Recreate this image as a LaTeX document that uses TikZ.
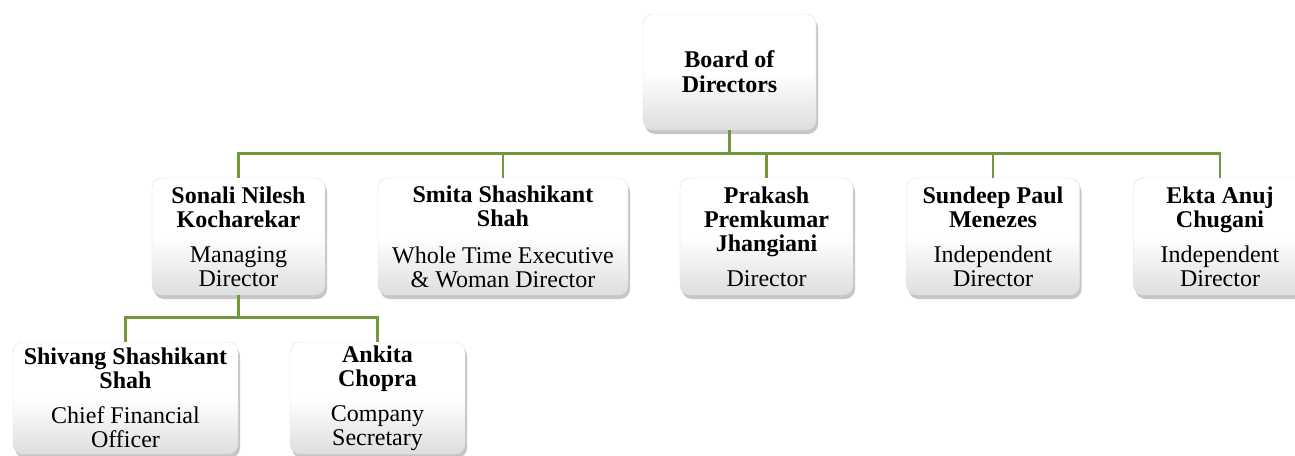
\documentclass[tikz,border=0pt]{standalone}
\usepackage{fontspec}
\setmainfont{Liberation Serif}
\usetikzlibrary{shadows}
\definecolor{linkgreen}{RGB}{112,153,58}

\begin{document}
\begin{tikzpicture}[x=1pt,y=-1pt]
      \useasboundingbox (0,0) rectangle (1295,455);
      \begin{scope}[every node/.style={rectangle,rounded corners=10pt,draw=black!12,
          top color=white,bottom color=black!13,middle color=white,
          drop shadow={shadow xshift=2pt,shadow yshift=-4pt,opacity=0.45},
          align=center,inner sep=0pt,minimum height=117pt,minimum width=173pt,
          font=\fontsize{24}{24}\selectfont}]
        \node (BoD) [minimum height=116pt] at (729.5,72) {\textbf{Board of}\\[1pt]\textbf{Directors}};
        \node (SNK) at (238.5,236.5) {\textbf{Sonali Nilesh}\\\textbf{Kocharekar}\\[11pt]Managing\\Director};
        \node (SSS) [minimum width=250pt] at (503,236.5) {\textbf{Smita Shashikant}\\\textbf{Shah}\\[13pt]Whole Time Executive\\\&~Woman Director};
        \node (PPJ) at (766.5,236.5) {\textbf{Prakash}\\\textbf{Premkumar}\\\textbf{Jhangiani}\\[11pt]Director};
        \node (SPM) at (993,236.5) {\textbf{Sundeep Paul}\\\textbf{Menezes}\\[11pt]Independent\\Director};
        \node (EAC) at (1220,236.5) {\textbf{Ekta Anuj}\\\textbf{Chugani}\\[11pt]Independent\\Director};
        \node (SSh) [minimum width=225pt,minimum height=112pt] at (125.5,398) {\textbf{Shivang Shashikant}\\\textbf{Shah}\\[11pt]Chief Financial\\Officer};
        \node (AC) [minimum width=175pt,minimum height=112pt] at (377.5,398) {\textbf{Ankita}\\\textbf{Chopra}\\[11pt]Company\\Secretary};
      \end{scope}
      \begin{scope}[every path/.style={draw=linkgreen,line width=2.8pt}]
        \path (BoD.south) -- ++(0,23) -| (SNK.north);
        \path (BoD.south) -- ++(0,23) -| (SSS.north);
        \path (BoD.south) -- ++(0,23) -| (PPJ.north);
        \path (BoD.south) -- ++(0,23) -| (SPM.north);
        \path (BoD.south) -- ++(0,23) -| (EAC.north);
        \path (SNK.south) -- ++(0,22) -| (SSh.north);
        \path (SNK.south) -- ++(0,22) -| (AC.north);
      \end{scope}
    \end{tikzpicture}
\end{document}
